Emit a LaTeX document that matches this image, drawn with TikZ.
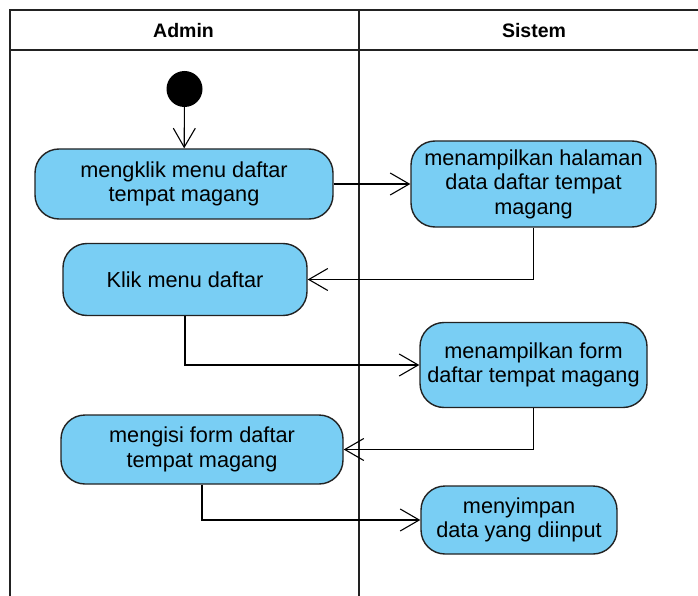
\documentclass[tikz,border=0pt]{standalone}
\usepackage{fontspec}
\setmainfont{Liberation Sans}
\usetikzlibrary{arrows.meta}
\definecolor{actfill}{RGB}{121,206,244}
\definecolor{lanegray}{RGB}{34,34,34}
\begin{document}
\begin{tikzpicture}[x=1pt, y=-1pt,
    every node/.style={font=\fontsize{21.7}{24.5}\selectfont},
    act/.style={draw=lanegray, line width=1.4pt, fill=actfill, rounded corners=24pt,
        align=center, inner sep=0pt},
    flow/.style={line width=1.1pt, -{Straight Barb[length=19pt, width=22pt, line width=1.1pt]}}]
    \useasboundingbox (0,0) rectangle (698,596);

    % swimlanes
    \draw[line width=1.4pt, lanegray] (698,10) -- (10,10) -- (10,596);
    \draw[line width=1.4pt, lanegray] (10,50) -- (698,50);
    \draw[line width=1.4pt, lanegray] (359,10) -- (359,596);
    \node (admin) at (183.5,31) {\fontsize{19.5}{22}\selectfont\bfseries Admin};
    \node (sistem) at (534,31) {\fontsize{19.5}{22}\selectfont\bfseries Sistem};

    % activities
    \node (start) [circle, fill=black, minimum size=36pt, inner sep=0pt] at (184.5,89) {};
    \node (klikmenu) [act, minimum width=298pt, minimum height=70pt] at (184,184) {mengklik menu daftar\\tempat magang};
    \node (tampilhal) [act, minimum width=245pt, minimum height=86pt] at (533.5,184) {menampilkan halaman\\data daftar tempat\\magang};
    \node (klikdaftar) [act, minimum width=244pt, minimum height=72pt] at (185,279.5) {Klik menu daftar};
    \node (tampilform) [act, minimum width=227pt, minimum height=85pt] at (533.5,365) {menampilkan form\\daftar tempat magang};
    \node (isiform) [act, minimum width=282pt, minimum height=69pt] at (202,449.5) {mengisi form daftar\\tempat magang};
    \node (simpan) [act, minimum width=196pt, minimum height=68pt] at (519,520) {menyimpan\\data yang diinput};

    % flows
    \draw[flow] (start) -- (klikmenu);
    \draw[flow] (klikmenu) -- (tampilhal);
    \draw[flow] (tampilhal) |- (klikdaftar);
    \draw[flow] (klikdaftar) |- (tampilform);
    \draw[flow] (tampilform) |- (isiform);
    \draw[flow] (isiform) |- (simpan);
\end{tikzpicture}
\end{document}
